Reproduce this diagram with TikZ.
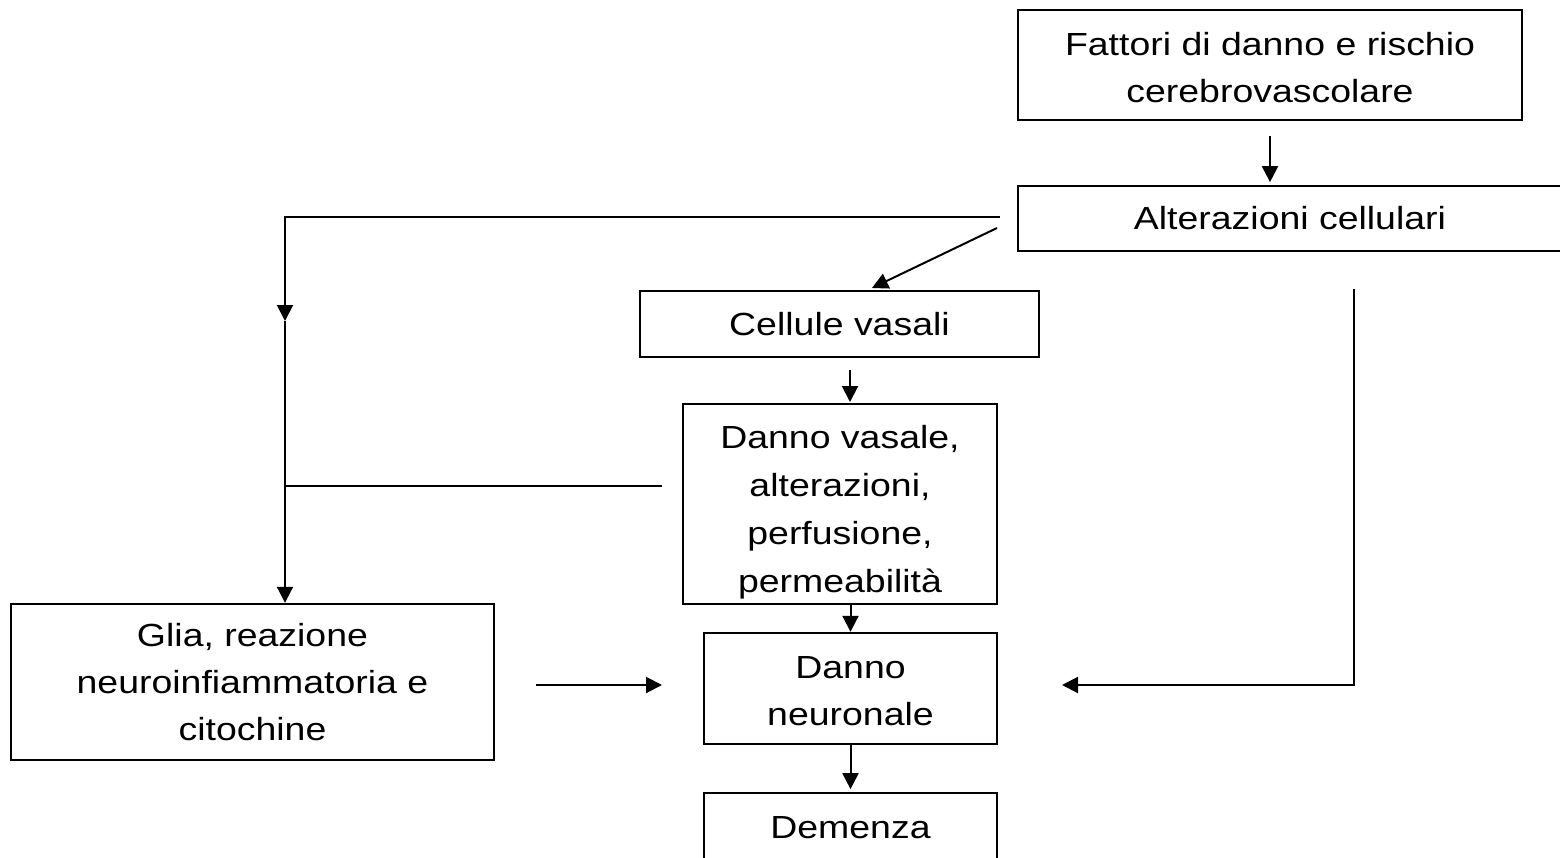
\documentclass[tikz,border=0pt]{standalone}
\usepackage{fontspec}
\setmainfont[FakeStretch=1.17]{Liberation Sans}
\usetikzlibrary{arrows.meta}
\tikzset{
  box/.style={draw, line width=1.8pt, inner sep=0pt, align=center, font=\fontsize{24}{35}\selectfont},
  conn/.style={line width=1.5pt},
  arr/.style={conn, -{Triangle[length=12pt,width=12pt]}},
}
\begin{document}
\begin{tikzpicture}[x=0.75pt,y=-0.75pt]
\clip (0,0) rectangle (1560,857);
\fill[white] (0,0) rectangle (1560,857);
\node[box, minimum width=378pt, minimum height=82.5pt] (fat) at (1270,65) {\rule{0pt}{21pt}Fattori di danno e rischio\\cerebrovascolare};
\node[box, minimum width=408pt, minimum height=48.75pt] (alt) at (1290,218.5) {Alterazioni cellulari};
\node[box, minimum width=299.25pt, minimum height=49.5pt] (cel) at (839.5,324) {Cellule vasali};
\node[box, minimum width=235.5pt, minimum height=150pt, font=\fontsize{24}{36}\selectfont] (dv) at (840,504) {\rule{0pt}{29pt}Danno vasale,\\alterazioni,\\perfusione,\\permeabilità};
\node[box, minimum width=362.25pt, minimum height=117pt] (glia) at (252.5,682) {Glia, reazione\\neuroinfiammatoria e\\citochine};
\node[box, minimum width=219.75pt, minimum height=83.25pt] (dn) at (850.5,688.5) {\rule{0pt}{20pt}Danno\\neuronale};
\node[box, minimum width=219.75pt, minimum height=52.5pt] (dem) at (850.5,828) {Demenza};

\coordinate (a1) at (1000,217);
\coordinate (a2) at (285,217);
\coordinate (amid) at (285,321);
\coordinate (d1) at (997,228);
\coordinate (d2) at (872,288);
\coordinate (c1) at (850,370);
\coordinate (c2) at (850,402);
\coordinate (h1) at (662,486);
\coordinate (h2) at (285,486);
\coordinate (g1) at (536,685);
\coordinate (g2) at (662,685);
\coordinate (r1) at (1354,289);
\coordinate (r2) at (1354,685);
\coordinate (r3) at (1062,685);

\draw[arr, shorten <=11pt, shorten >=2pt] (fat.south) -- (alt.north -| fat.south);
\draw[arr] (a1) -- (a2) -- (amid);
\draw[arr] (amid) -- (a2 |- glia.north);
\draw[arr] (d1) -- (d2);
\draw[arr] (c1) -- (c2);
\draw[conn] (h1) -- (h2);
\draw[arr] (dn.north |- dv.south) -- (dn.north);
\draw[arr] (g1) -- (g2);
\draw[arr] (r1) -- (r2) -- (r3);
\draw[arr, shorten >=2pt] (dn.south) -- (dem.north);
\end{tikzpicture}
\end{document}
